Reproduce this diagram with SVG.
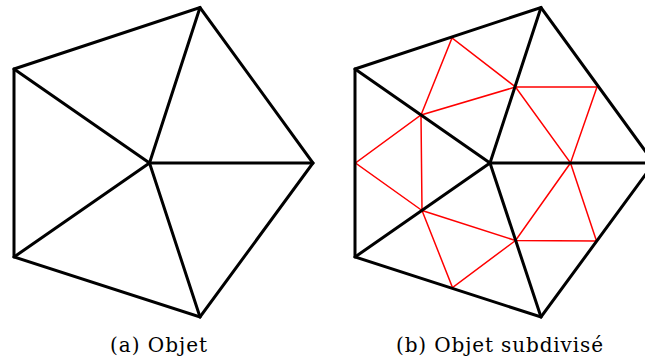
<svg xmlns="http://www.w3.org/2000/svg" width="645" height="361" viewBox="0 0 645 361">
<style>
.blk{fill:none;stroke:#000;stroke-width:3;stroke-linejoin:miter;stroke-linecap:round}
.red{fill:none;stroke:#ff0000;stroke-width:1.5;stroke-linecap:round}
.cap{font-size:20px;fill:#000}
</style>
<rect width="645" height="361" fill="#fff"/>
<g id="objet">
<polygon class="blk" points="14,69 200,7.5 313,163 200,317 14,257"/>
<g class="blk">
<line x1="149.5" y1="163" x2="14" y2="69"/>
<line x1="149.5" y1="163" x2="200" y2="7.5"/>
<line x1="149.5" y1="163" x2="313" y2="163"/>
<line x1="149.5" y1="163" x2="200" y2="317"/>
<line x1="149.5" y1="163" x2="14" y2="257"/>
</g>
</g>
<g id="objet-subdivise">
<g class="red">
<polygon points="421,115 452,38 515.5,87"/>
<polygon points="515.5,87 597,87 570.5,163"/>
<polygon points="570.5,163 596.5,241 515.5,240.5"/>
<polygon points="515.5,240.5 452.5,287.5 422,210.5"/>
<polygon points="422,210.5 355.5,163 421,115"/>
</g>
<polygon class="blk" points="355,69 541,7.5 654,163 541,317 355,257"/>
<g class="blk">
<line x1="490" y1="163" x2="355" y2="69"/>
<line x1="490" y1="163" x2="541" y2="7.5"/>
<line x1="490" y1="163" x2="654" y2="163"/>
<line x1="490" y1="163" x2="541" y2="317"/>
<line x1="490" y1="163" x2="355" y2="257"/>
</g>
</g>
<text class="cap" font-family="DejaVu Serif, serif" x="110" y="352" textLength="97" lengthAdjust="spacing">(a) Objet</text>
<text class="cap" font-family="DejaVu Serif, serif" x="396" y="352" textLength="207" lengthAdjust="spacing">(b) Objet subdivisé</text>
</svg>
